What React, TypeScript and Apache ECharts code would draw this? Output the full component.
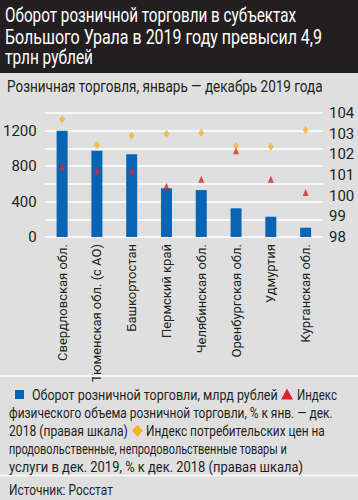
import React, { useEffect, useRef } from "react";
import * as echarts from "echarts";

const categories = [
  "Свердловская обл.",
  "Тюменская обл. (с АО)",
  "Башкортостан",
  "Пермский край",
  "Челябинская обл.",
  "Оренбургская обл.",
  "Удмуртия",
  "Курганская обл.",
];
const turnover = [1200, 974, 934, 550, 530, 324, 229, 105];
const physIndex = [101.4, 101.2, 101.2, 100.45, 100.8, 102.17, 100.8, 100.15];
const cpiIndex = [103.7, 102.45, 102.9, 103.0, 103.05, 102.4, 102.37, 103.18];
const leftTicks = [0, 1400, 200];
const rightTicks = [98, 104, 1];

const titleLines = [
  "Оборот розничной торговли в субъектах",
  "Большого Урала в 2019 году превысил 4,9",
  "трлн рублей",
];
const subtitle = "Розничная торговля, январь — декабрь 2019 года";
const legendBar = "Оборот розничной торговли, млрд рублей";
const legendPhys = [
  "Индекс",
  "физического объема розничной торговли, % к янв. — дек.",
  "2018 (правая шкала)",
];
const legendCpi = [
  "Индекс потребительских цен на",
  "продовольственные, непродовольственные товары и",
  "услуги в дек. 2019, % к дек. 2018 (правая шкала)",
];
const source = "Источник: Росстат";

const FONT = "Roboto, sans-serif";
const BLUE = "#0a64b4";
const RED = "#e1212b";
const ORANGE = "#f5b12a";
const TEXT = "#231f20";

const ctx = document.createElement("canvas").getContext("2d") as CanvasRenderingContext2D;
function measure(text: string, font: string) {
  ctx.font = font;
  return ctx.measureText(text).width;
}
function fitText(text: string, size: number, x0: number, x1: number, yc: number, fill: string) {
  const font = `${size}px ${FONT}`;
  const s = (x1 - x0) / measure(text, font);
  return {
    type: "text",
    x: x0,
    y: yc,
    scaleX: s,
    style: { text, fill, font, verticalAlign: "middle", align: "left" },
    z: 10,
  };
}

export default function App() {
  const ref = useRef<HTMLDivElement>(null);
  useEffect(() => {
    if (!ref.current) return;
    const chart = echarts.init(ref.current, undefined, { renderer: "svg" });
    const L = 18.1;
    const y0 = 394.5;
    chart.setOption({
      animation: false,
      backgroundColor: "#dfdfdf",
      textStyle: { fontFamily: FONT },
      grid: { left: 44, right: 35, top: 113, bottom: 263 },
      xAxis: {
        type: "category",
        data: categories,
        axisLine: { show: false },
        axisTick: { show: false },
        axisLabel: {
          rotate: 90,
          interval: 0,
          color: TEXT,
          fontSize: 13,
          fontFamily: FONT,
          margin: 7,
        },
      },
      yAxis: [
        {
          type: "value",
          min: leftTicks[0],
          max: leftTicks[1],
          interval: leftTicks[2],
          axisLine: { show: false },
          axisTick: { show: false },
          splitLine: { lineStyle: { color: "#ffffff", width: 1.5 } },
          axisLabel: {
            color: TEXT,
            fontSize: 15,
            fontFamily: FONT,
            margin: 8,
            formatter: (v: number) => (v % 400 === 0 ? String(v) : ""),
          },
        },
        {
          type: "value",
          min: rightTicks[0],
          max: rightTicks[1],
          interval: rightTicks[2],
          axisLine: { show: false },
          axisTick: { show: false },
          splitLine: { show: false },
          axisLabel: {
            color: TEXT,
            fontSize: 15,
            fontFamily: FONT,
            margin: 6,
          },
        },
      ],
      series: [
        {
          type: "bar",
          data: turnover,
          barWidth: 11,
          itemStyle: { color: BLUE },
          yAxisIndex: 0,
        },
        {
          type: "scatter",
          data: physIndex,
          yAxisIndex: 1,
          symbol: "triangle",
          symbolSize: [6, 7],
          itemStyle: { color: RED },
        },
        {
          type: "scatter",
          data: cpiIndex,
          yAxisIndex: 1,
          symbol: "diamond",
          symbolSize: [6, 8],
          itemStyle: { color: ORANGE },
        },
      ],
      graphic: [
        { type: "rect", x: 0, y: 0, shape: { width: 358, height: 73 }, style: { fill: "#231f20" }, z: 1 },
        fitText(titleLines[0], 19.5, 5, 296, 15, "#ffffff"),
        fitText(titleLines[1], 19.5, 5, 322, 36.5, "#ffffff"),
        fitText(titleLines[2], 19.5, 5, 93, 57.5, "#ffffff"),
        fitText(subtitle, 16, 7, 323, 86.5, TEXT),
        { type: "rect", x: 0, y: 375, shape: { width: 358, height: 2 }, style: { fill: "#f7f7f7" }, z: 1 },
        { type: "rect", x: 0, y: 474.5, shape: { width: 358, height: 2 }, style: { fill: "#f7f7f7" }, z: 1 },
        { type: "rect", x: 15, y: y0 - 4.5, shape: { width: 9, height: 9 }, style: { fill: BLUE }, z: 10 },
        fitText(legendBar, 15, 32, 278, y0, TEXT),
        {
          type: "polygon",
          shape: { points: [[287, y0 - 6], [293, y0 + 5], [281, y0 + 5]] },
          style: { fill: RED },
          z: 10,
        },
        fitText(legendPhys[0], 15, 297, 337, y0, TEXT),
        fitText(legendPhys[1], 15, 9, 333, y0 + L, TEXT),
        fitText(legendPhys[2], 15, 9, 128, y0 + 2 * L, TEXT),
        {
          type: "polygon",
          shape: {
            points: [[137.5, y0 + 2 * L - 6], [143, y0 + 2 * L], [137.5, y0 + 2 * L + 6], [132, y0 + 2 * L]],
          },
          style: { fill: ORANGE },
          z: 10,
        },
        fitText(legendCpi[0], 15, 146, 325, y0 + 2 * L, TEXT),
        fitText(legendCpi[1], 15, 9, 287, y0 + 3 * L, TEXT),
        fitText(legendCpi[2], 15, 9, 303, y0 + 4 * L, TEXT),
        fitText(source, 15, 9, 113, 489, TEXT),
      ],
    });
    return () => chart.dispose();
  }, []);
  return (
    <div
      ref={ref}
      style={{ position: "fixed", left: 0, top: 0, width: 358, height: 500 }}
    />
  );
}
